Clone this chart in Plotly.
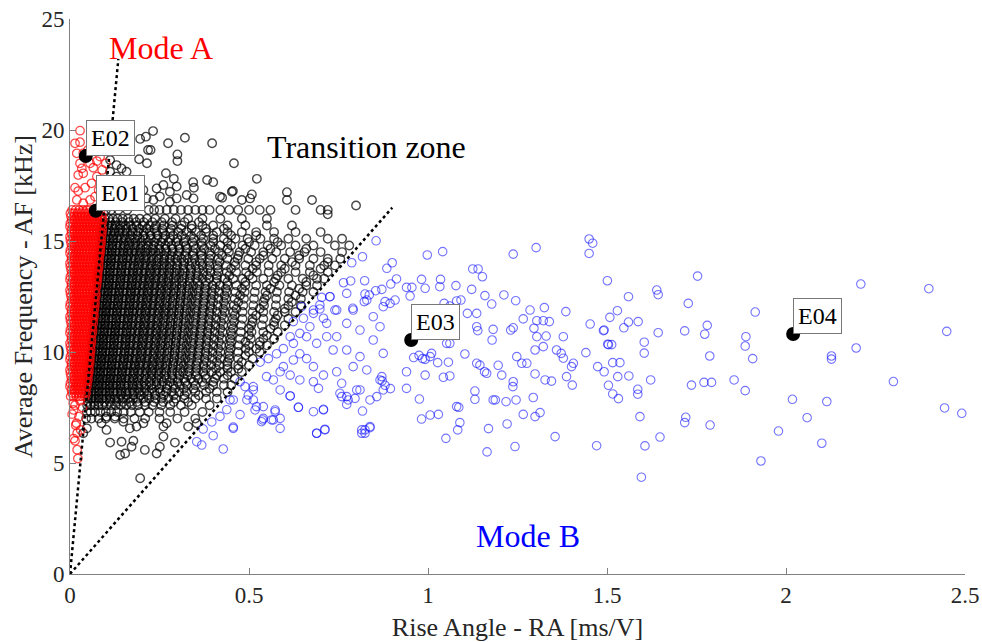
import plotly.graph_objects as go

# ---------------- DATA ----------------
# Transition zone (black): rows of events that share roughly the same AF level
black_row_af = [7.0, 7.3, 7.6, 7.9, 8.2, 8.5, 8.8, 9.1, 9.4, 9.7, 10.0, 10.3, 10.6, 10.9,
                11.2, 11.5, 11.8, 12.1, 12.4, 12.7, 13.0, 13.3, 13.6, 13.9, 14.2, 14.5,
                14.8, 15.1, 15.4, 15.7, 16.0, 16.4]
black_row_ra = [
    [0.045,0.06,0.08,0.1,0.125,0.15,0.18,0.21,0.25,0.3,0.35],
    [0.047,0.058,0.07,0.085,0.1,0.115,0.132,0.15,0.17,0.195,0.22,0.25,0.28,0.32,0.37],
    [0.048,0.058,0.068,0.079,0.09,0.102,0.115,0.128,0.142,0.157,0.173,0.19,0.21,0.23,0.255,0.28,0.31,0.34,0.39],
    [0.05,0.06,0.07,0.08,0.09,0.101,0.112,0.124,0.136,0.149,0.162,0.176,0.19,0.205,0.221,0.238,0.256,0.275,0.295,0.32,0.35,0.38,0.41],
    [0.052,0.061,0.07,0.08,0.09,0.1,0.11,0.121,0.132,0.143,0.155,0.167,0.18,0.193,0.207,0.221,0.236,0.252,0.268,0.285,0.305,0.325,0.35,0.38,0.41,0.44],
    [0.053,0.062,0.071,0.08,0.09,0.1,0.11,0.12,0.13,0.141,0.152,0.163,0.175,0.187,0.2,0.213,0.227,0.241,0.256,0.272,0.289,0.307,0.327,0.35,0.375,0.4,0.43,0.45],
    [0.055,0.064,0.073,0.082,0.092,0.102,0.112,0.122,0.132,0.143,0.154,0.165,0.177,0.189,0.201,0.214,0.227,0.241,0.255,0.27,0.286,0.302,0.319,0.338,0.358,0.38,0.405,0.43,0.46],
    [0.057,0.066,0.075,0.084,0.094,0.104,0.114,0.124,0.134,0.145,0.156,0.167,0.178,0.19,0.202,0.215,0.228,0.241,0.255,0.269,0.284,0.3,0.316,0.333,0.352,0.372,0.395,0.42,0.45,0.48],
    [0.058,0.067,0.076,0.086,0.096,0.106,0.116,0.126,0.137,0.148,0.159,0.17,0.181,0.193,0.205,0.218,0.231,0.244,0.258,0.272,0.287,0.302,0.318,0.335,0.353,0.373,0.394,0.417,0.44,0.47,0.5],
    [0.06,0.069,0.078,0.088,0.098,0.108,0.118,0.129,0.14,0.151,0.162,0.173,0.185,0.197,0.209,0.222,0.235,0.248,0.262,0.276,0.291,0.306,0.322,0.339,0.357,0.376,0.397,0.42,0.445,0.47,0.51],
    [0.062,0.071,0.08,0.09,0.1,0.11,0.12,0.131,0.142,0.153,0.164,0.175,0.187,0.199,0.211,0.224,0.237,0.25,0.264,0.278,0.293,0.308,0.324,0.341,0.359,0.378,0.398,0.42,0.444,0.47,0.5,0.53],
    [0.064,0.073,0.082,0.092,0.102,0.112,0.122,0.133,0.144,0.155,0.166,0.177,0.189,0.201,0.213,0.226,0.239,0.252,0.266,0.28,0.295,0.31,0.326,0.343,0.361,0.38,0.4,0.422,0.446,0.472,0.5,0.53,0.55],
    [0.065,0.074,0.083,0.093,0.103,0.113,0.123,0.134,0.145,0.156,0.167,0.179,0.191,0.203,0.215,0.228,0.241,0.254,0.268,0.282,0.297,0.312,0.328,0.345,0.363,0.382,0.402,0.424,0.448,0.475,0.505,0.54,0.57],
    [0.067,0.076,0.085,0.095,0.105,0.115,0.125,0.136,0.147,0.158,0.169,0.181,0.193,0.205,0.217,0.23,0.243,0.256,0.27,0.284,0.299,0.314,0.33,0.347,0.365,0.384,0.404,0.426,0.45,0.477,0.507,0.54,0.58],
    [0.069,0.078,0.087,0.097,0.107,0.117,0.127,0.138,0.149,0.16,0.171,0.183,0.195,0.207,0.219,0.232,0.245,0.258,0.272,0.286,0.301,0.316,0.332,0.349,0.367,0.386,0.406,0.428,0.452,0.478,0.506,0.536,0.57,0.6],
    [0.07,0.079,0.088,0.098,0.108,0.118,0.129,0.14,0.151,0.162,0.173,0.185,0.197,0.209,0.221,0.234,0.247,0.26,0.274,0.288,0.303,0.318,0.334,0.351,0.369,0.388,0.408,0.43,0.455,0.482,0.51,0.54,0.575,0.61],
    [0.072,0.081,0.09,0.1,0.11,0.12,0.131,0.142,0.153,0.164,0.175,0.187,0.199,0.211,0.223,0.236,0.249,0.262,0.276,0.29,0.305,0.32,0.336,0.353,0.371,0.39,0.41,0.432,0.456,0.482,0.51,0.54,0.57,0.6,0.63],
    [0.074,0.083,0.092,0.102,0.112,0.122,0.133,0.144,0.155,0.166,0.177,0.189,0.201,0.213,0.225,0.238,0.251,0.264,0.278,0.292,0.307,0.322,0.338,0.355,0.373,0.392,0.412,0.434,0.458,0.484,0.512,0.542,0.575,0.61,0.645],
    [0.075,0.084,0.094,0.104,0.114,0.124,0.135,0.146,0.157,0.168,0.179,0.191,0.203,0.215,0.227,0.24,0.253,0.266,0.28,0.294,0.309,0.324,0.34,0.357,0.375,0.394,0.414,0.436,0.46,0.486,0.514,0.544,0.576,0.61,0.645],
    [0.077,0.086,0.096,0.106,0.116,0.126,0.137,0.148,0.159,0.17,0.181,0.193,0.205,0.217,0.229,0.242,0.255,0.268,0.282,0.296,0.311,0.326,0.342,0.359,0.377,0.396,0.416,0.438,0.462,0.488,0.516,0.546,0.578,0.612,0.65,0.68],
    [0.079,0.088,0.098,0.108,0.118,0.128,0.139,0.15,0.161,0.172,0.183,0.195,0.207,0.219,0.231,0.244,0.257,0.27,0.284,0.298,0.313,0.328,0.344,0.361,0.379,0.398,0.418,0.44,0.465,0.49,0.52,0.55,0.585,0.62,0.66,0.69],
    [0.081,0.09,0.1,0.11,0.12,0.13,0.141,0.152,0.163,0.174,0.186,0.198,0.21,0.222,0.235,0.248,0.261,0.275,0.289,0.304,0.319,0.335,0.352,0.37,0.389,0.41,0.432,0.456,0.482,0.51,0.54,0.575,0.61,0.65,0.69,0.71],
    [0.082,0.091,0.101,0.111,0.121,0.132,0.143,0.154,0.165,0.176,0.188,0.2,0.212,0.224,0.237,0.25,0.263,0.277,0.291,0.306,0.321,0.337,0.354,0.372,0.392,0.414,0.438,0.464,0.492,0.522,0.555,0.59,0.63,0.67,0.72],
    [0.084,0.093,0.103,0.113,0.123,0.134,0.145,0.156,0.167,0.179,0.191,0.203,0.216,0.229,0.242,0.256,0.27,0.285,0.3,0.316,0.333,0.351,0.37,0.39,0.412,0.436,0.462,0.49,0.52,0.555,0.59,0.63,0.67,0.71,0.74],
    [0.086,0.095,0.105,0.115,0.125,0.136,0.147,0.158,0.17,0.182,0.194,0.207,0.22,0.234,0.248,0.263,0.278,0.294,0.311,0.329,0.348,0.368,0.39,0.414,0.44,0.468,0.498,0.53,0.565,0.6,0.64,0.68,0.72,0.755],
    [0.087,0.096,0.106,0.116,0.127,0.138,0.149,0.161,0.173,0.185,0.198,0.211,0.225,0.239,0.254,0.27,0.287,0.305,0.324,0.344,0.366,0.39,0.416,0.444,0.474,0.506,0.54,0.576,0.615,0.655,0.7,0.76],
    [0.089,0.098,0.108,0.118,0.129,0.14,0.152,0.164,0.177,0.19,0.204,0.218,0.233,0.249,0.266,0.284,0.303,0.323,0.345,0.368,0.393,0.42,0.45,0.482,0.516,0.552,0.59,0.63,0.68,0.74,0.78],
    [0.091,0.1,0.11,0.12,0.131,0.143,0.155,0.168,0.181,0.195,0.21,0.226,0.243,0.261,0.28,0.3,0.322,0.346,0.372,0.4,0.43,0.462,0.496,0.532,0.57,0.61,0.66,0.72,0.76],
    [0.093,0.103,0.113,0.124,0.136,0.148,0.161,0.175,0.19,0.206,0.223,0.241,0.26,0.28,0.302,0.326,0.352,0.38,0.41,0.44,0.48,0.52,0.57,0.63,0.7],
    [0.095,0.105,0.116,0.128,0.141,0.155,0.17,0.186,0.203,0.221,0.24,0.262,0.286,0.312,0.34,0.37,0.4,0.44,0.49,0.55,0.62],
    [0.097,0.108,0.12,0.133,0.147,0.162,0.178,0.195,0.215,0.238,0.265,0.295,0.33,0.37,0.42,0.48,0.55],
    [0.1,0.115,0.135,0.16,0.22,0.235,0.25,0.27,0.29,0.31,0.33,0.35,0.37,0.39,0.42,0.445,0.47,0.5,0.53,0.56,0.63,0.72],
]
# Transition zone (black): in-between rows of the dense core
black_row2_af = [7.75, 8.05, 8.35, 8.65, 8.95, 9.25, 9.55, 9.85, 10.15, 10.45, 10.75, 11.05, 11.35,
                 11.65, 11.95, 12.25, 12.55, 12.85, 13.15, 13.45, 13.75, 14.05, 14.35, 14.65,
                 14.95, 15.25, 15.55, 15.85]
black_row2_ra = [
    [0.05,0.065,0.08,0.096,0.112,0.13,0.148,0.167,0.187,0.21,0.235,0.26,0.29,0.33],
    [0.051,0.065,0.08,0.095,0.11,0.126,0.142,0.159,0.177,0.196,0.216,0.238,0.262,0.29,0.32,0.36],
    [0.053,0.067,0.081,0.096,0.111,0.126,0.142,0.158,0.175,0.192,0.21,0.229,0.249,0.27,0.293,0.318,0.345,0.39],
    [0.054,0.068,0.083,0.097,0.112,0.127,0.142,0.158,0.174,0.19,0.207,0.224,0.242,0.26,0.28,0.3,0.322,0.345,0.37,0.4],
    [0.056,0.07,0.085,0.099,0.114,0.129,0.144,0.16,0.176,0.193,0.21,0.228,0.246,0.265,0.285,0.306,0.328,0.352,0.378,0.41,0.44],
    [0.058,0.072,0.086,0.1,0.115,0.13,0.146,0.162,0.178,0.195,0.212,0.23,0.248,0.267,0.287,0.308,0.33,0.354,0.38,0.408,0.44,0.47],
    [0.059,0.073,0.088,0.102,0.117,0.132,0.148,0.164,0.18,0.197,0.214,0.232,0.25,0.269,0.289,0.31,0.332,0.356,0.382,0.41,0.44,0.48],
    [0.061,0.075,0.09,0.104,0.119,0.134,0.15,0.166,0.182,0.199,0.216,0.234,0.252,0.271,0.291,0.312,0.334,0.358,0.384,0.412,0.445,0.49],
    [0.063,0.077,0.092,0.106,0.121,0.136,0.152,0.168,0.184,0.201,0.218,0.236,0.254,0.273,0.293,0.314,0.336,0.36,0.386,0.414,0.448,0.49,0.52],
    [0.064,0.078,0.093,0.108,0.123,0.138,0.154,0.17,0.186,0.203,0.22,0.238,0.256,0.275,0.295,0.316,0.338,0.362,0.388,0.416,0.45,0.49,0.53],
    [0.066,0.08,0.095,0.11,0.125,0.14,0.156,0.172,0.188,0.205,0.222,0.24,0.258,0.277,0.297,0.318,0.34,0.364,0.39,0.418,0.452,0.5,0.55],
    [0.068,0.082,0.097,0.112,0.127,0.142,0.158,0.174,0.19,0.207,0.224,0.242,0.26,0.279,0.299,0.32,0.342,0.366,0.392,0.42,0.455,0.5,0.56],
    [0.07,0.084,0.099,0.114,0.129,0.144,0.16,0.176,0.192,0.209,0.226,0.244,0.262,0.281,0.301,0.322,0.344,0.368,0.394,0.422,0.458,0.51,0.57],
    [0.071,0.085,0.1,0.115,0.13,0.146,0.162,0.178,0.194,0.211,0.228,0.246,0.264,0.283,0.303,0.324,0.346,0.37,0.396,0.425,0.46,0.52,0.58],
    [0.073,0.087,0.102,0.117,0.132,0.148,0.164,0.18,0.196,0.213,0.23,0.248,0.266,0.285,0.305,0.326,0.348,0.372,0.398,0.428,0.465,0.53,0.6],
    [0.075,0.089,0.104,0.119,0.134,0.15,0.166,0.182,0.198,0.215,0.232,0.25,0.268,0.287,0.307,0.328,0.35,0.374,0.4,0.43,0.47,0.54,0.62],
    [0.076,0.09,0.105,0.12,0.136,0.152,0.168,0.184,0.2,0.217,0.234,0.252,0.27,0.289,0.309,0.33,0.352,0.376,0.402,0.432,0.475,0.55,0.63],
    [0.078,0.092,0.107,0.122,0.138,0.154,0.17,0.186,0.202,0.219,0.236,0.254,0.272,0.291,0.311,0.332,0.354,0.378,0.405,0.435,0.48,0.56,0.64],
    [0.08,0.094,0.109,0.124,0.14,0.156,0.172,0.188,0.204,0.221,0.238,0.256,0.274,0.293,0.313,0.334,0.356,0.38,0.408,0.44,0.49,0.57,0.66],
    [0.082,0.096,0.111,0.126,0.142,0.158,0.174,0.19,0.206,0.223,0.24,0.258,0.276,0.295,0.315,0.336,0.358,0.383,0.41,0.445,0.5,0.58,0.68],
    [0.083,0.097,0.112,0.127,0.143,0.159,0.175,0.191,0.208,0.225,0.242,0.26,0.278,0.297,0.317,0.338,0.36,0.385,0.413,0.45,0.51,0.6,0.7],
    [0.085,0.099,0.114,0.129,0.145,0.161,0.177,0.193,0.21,0.227,0.244,0.262,0.28,0.299,0.319,0.34,0.363,0.388,0.418,0.46,0.52,0.62,0.72],
    [0.087,0.101,0.116,0.131,0.147,0.163,0.179,0.195,0.212,0.229,0.246,0.264,0.282,0.301,0.321,0.343,0.367,0.393,0.425,0.47,0.54,0.64],
    [0.088,0.102,0.117,0.132,0.148,0.164,0.18,0.197,0.214,0.231,0.249,0.267,0.286,0.306,0.327,0.35,0.375,0.405,0.44,0.49,0.56,0.66],
    [0.09,0.104,0.119,0.134,0.15,0.166,0.183,0.2,0.218,0.236,0.255,0.275,0.296,0.318,0.342,0.368,0.4,0.44,0.5,0.58],
    [0.092,0.106,0.121,0.137,0.153,0.17,0.188,0.206,0.225,0.245,0.266,0.288,0.312,0.338,0.366,0.4,0.45,0.52],
    [0.094,0.108,0.124,0.14,0.157,0.175,0.194,0.214,0.235,0.258,0.282,0.31,0.34,0.38,0.43],
    [0.096,0.112,0.128,0.146,0.165,0.185,0.206,0.23,0.256,0.285,0.32,0.36],
]
# Transition zone (black): scattered events outside the rows
black_extra_ra = [0.196,0.212,0.232,0.274,0.321,0.397,0.218,0.225,0.30,0.30,0.215,0.458,0.522,0.383,0.40,
                  0.268,0.29,0.344,0.346,0.606,0.676,0.799,0.606,0.508,0.455,0.425,0.112,0.130,0.144,
                  0.158,0.112,0.130,0.110,0.193,0.205,0.242,0.261,0.279,0.298,0.214,0.233,0.251,0.279,
                  0.298,0.326,0.345,0.419,0.452,0.480,0.503,0.112,0.144,0.140,0.154,0.172,0.177,0.209,
                  0.242,0.251,0.293,0.261,0.205,0.186,0.167,0.102,0.088,0.102,0.126,0.149,0.047,0.037,
                  0.196,0.261,0.270,0.330,0.354,0.72,0.70]
black_extra_af = [19.6,19.7,19.95,19.4,19.65,19.4,19.1,19.1,18.9,18.6,18.5,18.5,17.8,17.75,17.65,
                  18.05,17.8,17.65,17.4,17.2,16.85,16.6,16.85,17.1,17.25,16.95,18.65,18.42,18.27,
                  18.12,18.12,17.9,17.75,18.68,17.30,17.37,17.52,17.22,17.45,16.92,16.85,17.0,16.77,
                  16.92,17.07,16.92,17.0,17.22,16.85,16.92,5.92,5.96,5.36,5.43,5.73,6.0,5.59,
                  5.43,5.73,5.92,6.19,6.79,6.64,6.56,6.49,6.79,7.09,7.09,6.86,6.56,6.34,
                  4.31,6.64,6.79,6.64,6.79,16.2,16.4]

# Mode A (red)
red_row_af = [8.0, 8.3, 8.6, 8.9, 9.2, 9.5, 9.8, 10.1, 10.4, 10.7, 11.0, 11.3, 11.6, 11.9, 12.2,
              12.5, 12.8, 13.1, 13.4, 13.7, 14.0, 14.3, 14.6, 14.9, 15.2, 15.5, 15.8, 16.1, 16.4]
red_row_ra = [
    [0.002,0.01,0.018,0.026,0.034,0.042],
    [0.004,0.012,0.02,0.028,0.036,0.044],
    [0.001,0.009,0.017,0.025,0.033,0.041,0.048],
    [0.003,0.011,0.019,0.027,0.035,0.043,0.05],
    [0.0,0.008,0.016,0.024,0.032,0.04,0.047,0.053],
    [0.004,0.012,0.02,0.028,0.036,0.044,0.051,0.055],
    [0.001,0.009,0.017,0.025,0.033,0.041,0.049,0.056],
    [0.003,0.011,0.019,0.027,0.035,0.043,0.051,0.058],
    [0.0,0.008,0.016,0.024,0.032,0.04,0.048,0.055,0.06],
    [0.004,0.012,0.02,0.028,0.036,0.044,0.052,0.059],
    [0.001,0.009,0.017,0.025,0.033,0.041,0.049,0.057,0.063],
    [0.003,0.011,0.019,0.027,0.035,0.043,0.051,0.059,0.065],
    [0.0,0.008,0.016,0.024,0.032,0.04,0.048,0.056,0.063,0.067],
    [0.004,0.012,0.02,0.028,0.036,0.044,0.052,0.06,0.068],
    [0.001,0.009,0.017,0.025,0.033,0.041,0.049,0.057,0.065,0.07],
    [0.003,0.011,0.019,0.027,0.035,0.043,0.051,0.059,0.067,0.072],
    [0.0,0.008,0.016,0.024,0.032,0.04,0.048,0.056,0.064,0.071],
    [0.004,0.012,0.02,0.028,0.036,0.044,0.052,0.06,0.068,0.075],
    [0.001,0.009,0.017,0.025,0.033,0.041,0.049,0.057,0.065,0.073,0.077],
    [0.003,0.011,0.019,0.027,0.035,0.043,0.051,0.059,0.067,0.075,0.079],
    [0.0,0.008,0.016,0.024,0.032,0.04,0.048,0.056,0.064,0.072,0.08],
    [0.004,0.012,0.02,0.028,0.036,0.044,0.052,0.06,0.068,0.076,0.082],
    [0.001,0.009,0.017,0.025,0.033,0.041,0.049,0.057,0.065,0.073,0.081,0.085],
    [0.003,0.011,0.019,0.027,0.035,0.043,0.051,0.059,0.067,0.075,0.083,0.087],
    [0.0,0.008,0.016,0.024,0.032,0.04,0.048,0.056,0.064,0.072,0.08,0.088],
    [0.004,0.012,0.02,0.028,0.036,0.044,0.052,0.06,0.068,0.076,0.084,0.09],
    [0.001,0.009,0.017,0.025,0.033,0.041,0.049,0.057,0.065,0.073,0.081,0.089],
    [0.003,0.011,0.019,0.027,0.035,0.043,0.051,0.059,0.067,0.075,0.083,0.09],
    [0.006,0.016,0.026,0.036,0.046,0.056,0.066,0.076,0.086],
]
red_row2_af = [8.15, 8.45, 8.75, 9.05, 9.35, 9.65, 9.95, 10.25, 10.55, 10.85, 11.15, 11.45, 11.75,
               12.05, 12.35, 12.65, 12.95, 13.25, 13.55, 13.85, 14.15, 14.45, 14.75, 15.05, 15.35,
               15.65, 15.95, 16.25]
red_row2_ra = [
    [0.006,0.014,0.022,0.03,0.038,0.045],
    [0.0,0.008,0.016,0.024,0.032,0.04,0.047],
    [0.005,0.013,0.021,0.029,0.037,0.045,0.05],
    [0.001,0.009,0.017,0.025,0.033,0.041,0.049,0.052],
    [0.004,0.012,0.02,0.028,0.036,0.044,0.052],
    [0.0,0.008,0.016,0.024,0.032,0.04,0.048,0.055],
    [0.005,0.013,0.021,0.029,0.037,0.045,0.053,0.057],
    [0.001,0.009,0.017,0.025,0.033,0.041,0.049,0.057],
    [0.004,0.012,0.02,0.028,0.036,0.044,0.052,0.06],
    [0.0,0.008,0.016,0.024,0.032,0.04,0.048,0.056,0.062],
    [0.005,0.013,0.021,0.029,0.037,0.045,0.053,0.061],
    [0.001,0.009,0.017,0.025,0.033,0.041,0.049,0.057,0.064],
    [0.004,0.012,0.02,0.028,0.036,0.044,0.052,0.06,0.066],
    [0.0,0.008,0.016,0.024,0.032,0.04,0.048,0.056,0.064,0.069],
    [0.005,0.013,0.021,0.029,0.037,0.045,0.053,0.061,0.069],
    [0.001,0.009,0.017,0.025,0.033,0.041,0.049,0.057,0.065,0.072],
    [0.004,0.012,0.02,0.028,0.036,0.044,0.052,0.06,0.068,0.074],
    [0.0,0.008,0.016,0.024,0.032,0.04,0.048,0.056,0.064,0.072,0.076],
    [0.005,0.013,0.021,0.029,0.037,0.045,0.053,0.061,0.069,0.077],
    [0.001,0.009,0.017,0.025,0.033,0.041,0.049,0.057,0.065,0.073,0.08],
    [0.004,0.012,0.02,0.028,0.036,0.044,0.052,0.06,0.068,0.076,0.081],
    [0.0,0.008,0.016,0.024,0.032,0.04,0.048,0.056,0.064,0.072,0.08,0.084],
    [0.005,0.013,0.021,0.029,0.037,0.045,0.053,0.061,0.069,0.077,0.085],
    [0.001,0.009,0.017,0.025,0.033,0.041,0.049,0.057,0.065,0.073,0.081,0.087],
    [0.004,0.012,0.02,0.028,0.036,0.044,0.052,0.06,0.068,0.076,0.084,0.089],
    [0.0,0.008,0.016,0.024,0.032,0.04,0.048,0.056,0.064,0.072,0.08,0.088],
    [0.005,0.013,0.021,0.029,0.037,0.045,0.053,0.061,0.069,0.077,0.085,0.091],
    [0.001,0.011,0.021,0.031,0.041,0.051,0.061,0.071,0.081],
]
red_extra_ra = [0.028,0.014,0.028,0.019,0.037,0.028,0.056,0.075,0.065,0.033,0.023,0.037,0.014,0.023,
                0.042,0.06,0.075,0.08,0.019,0.037,0.056,0.07,0.09,0.05,0.084,0.10,0.09,0.07,
                0.014,0.028,0.01,0.025,0.018,0.03,0.016,0.02,0.014,0.02,0.022,0.006,0.035,0.01,0.009]
red_extra_af = [19.97,19.4,19.45,18.95,18.95,18.5,18.5,18.6,18.3,18.27,17.97,18.05,17.4,17.25,
                17.4,17.6,17.9,17.3,16.85,16.7,16.85,17.0,16.8,19.1,18.8,18.5,18.2,19.2,
                7.6,7.8,7.39,7.09,6.79,6.49,6.7,6.35,6.0,5.6,5.2,7.2,7.5,6.1,7.69]

# Mode B (blue)
blue_ra = [1.501,1.753,2.209,2.399,1.560,1.639,1.643,1.727,1.914,1.529,1.508,1.492,1.547,1.560,1.587,
           1.643,1.717,1.780,1.773,1.888,1.886,1.907,2.449,2.196,2.127,2.127,1.504,1.513,1.604,1.604,
           1.787,1.516,1.536,1.492,1.530,1.561,1.622,1.504,1.516,1.532,1.586,1.586,1.736,1.771,1.792,
           1.855,1.886,2.018,2.114,2.300,2.443,2.491,1.592,1.720,1.717,1.788,2.059,1.979,2.100,1.648,
           1.606,1.930,1.596,1.165,
           0.855,0.817,0.998,1.041,1.238,1.302,1.450,1.460,1.450,0.900,0.885,0.787,0.912,0.982,1.035,
           1.125,1.140,1.152,0.764,0.784,0.823,0.896,0.940,0.955,0.992,1.033,1.078,1.122,1.212,1.245,
           1.159,1.178,0.703,0.726,0.824,0.836,0.854,0.871,0.950,0.822,0.880,0.894,0.908,0.790,0.740,
           0.647,0.680,0.698,1.045,1.061,1.080,1.092,1.110,1.136,1.285,1.325,1.385,1.266,1.304,1.322,
           1.339,1.453,1.136,1.139,1.182,1.179,1.238,1.231,1.296,1.304,1.330,1.378,1.490,1.502,1.322,
           1.299,1.248,1.262,1.276,1.359,1.372,1.378,1.406,1.401,1.441,1.474,1.103,1.136,1.145,1.196,
           1.158,1.164,1.206,1.238,1.237,1.246,1.299,1.327,1.345,1.387,1.403,1.471,1.057,0.992,1.043,
           1.061,1.131,1.131,1.182,1.188,1.218,1.294,1.080,1.086,1.313,1.299,1.266,1.221,1.169,1.089,
           1.083,1.006,1.029,0.982,1.050,1.243,1.355,0.976,0.940,0.940,0.960,0.975,0.985,1.010,1.006,
           0.992,1.027,1.024,1.013,1.006,1.052,1.061,1.057,1.069,
           0.447,0.456,0.475,0.489,0.498,0.512,0.521,0.517,0.540,0.535,0.568,0.587,0.573,0.615,0.638,
           0.680,0.708,0.689,0.712,0.694,0.754,0.759,0.777,0.796,0.801,0.817,0.773,0.815,0.824,0.838,
           0.880,0.895,0.872,0.857,0.871,
           0.354,0.368,0.428,0.400,0.372,0.456,0.419,0.396,0.475,0.438,0.456,0.494,0.512,0.512,0.540,
           0.573,0.587,0.563,0.538,0.615,0.638,0.708,0.689,0.712,0.587,0.568,0.549,0.587,0.615,0.642,
           0.680,0.531,0.554,0.577,0.596,0.624,0.642,0.661,0.680,0.708,0.745,0.759,0.624,0.652,0.680,
           0.708,0.717,0.670,0.642,0.615,0.698,0.726,0.773,0.745,0.791,0.773,0.810,0.847,0.875,0.829,
           0.866,0.847,0.875,0.810,0.773,0.791,0.829,0.866,0.810,0.773,0.838,0.875,0.815,0.824,0.838,
           0.735,0.689,0.661,0.717,0.745,0.624,0.596]
blue_af = [13.21,13.42,13.06,12.85,12.49,12.79,12.58,12.19,11.80,11.86,11.56,10.99,11.09,11.35,11.37,
           10.87,10.95,11.20,10.80,10.69,10.27,9.70,10.93,10.18,9.82,9.68,10.33,10.33,10.44,9.95,
           9.82,9.52,9.52,9.11,8.89,8.92,8.74,8.50,8.11,7.90,8.32,8.10,8.51,8.63,8.63,
           8.74,8.26,7.87,7.77,8.67,7.48,7.24,7.09,7.06,6.82,6.71,7.04,6.44,5.89,6.17,
           5.77,5.09,4.36,5.50,
           15.01,14.29,14.37,14.52,14.41,14.70,15.09,14.90,14.44,14.02,13.77,14.02,13.29,13.27,13.27,
           13.74,13.74,13.39,13.12,13.20,13.21,13.06,12.91,12.91,12.87,12.94,12.99,12.82,12.57,12.31,
           12.54,12.16,12.46,12.49,12.61,12.57,12.76,12.82,12.52,12.27,12.27,12.19,12.34,11.97,11.89,
           12.04,11.89,11.94,12.19,12.07,12.30,12.34,11.74,11.74,11.89,12.00,11.82,11.49,11.41,11.41,
           11.37,11.26,11.14,10.96,11.02,10.54,11.09,10.99,11.07,10.69,10.72,10.69,10.96,10.35,10.24,
           10.09,9.79,9.49,9.49,10.09,9.94,9.72,9.49,9.34,9.97,9.34,9.91,9.49,9.41,9.40,
           9.11,9.04,8.96,8.66,8.44,7.84,9.01,8.74,8.69,8.89,8.51,5.78,9.54,8.96,8.86,
           8.92,8.24,7.87,7.84,7.84,7.76,7.95,7.54,7.51,7.27,7.09,7.19,6.76,6.55,6.82,
           6.49,7.16,7.19,6.98,6.11,5.74,6.19,7.88,8.36,9.11,9.75,9.85,9.70,9.94,9.79,
           9.67,9.52,10.77,10.99,11.14,10.39,10.39,11.59,11.67,
           7.84,6.56,8.66,8.44,8.06,7.84,7.54,7.39,7.01,6.86,6.94,6.56,7.31,8.02,7.51,
           7.31,7.42,6.34,6.52,8.36,8.14,7.99,7.84,7.91,8.29,7.34,7.64,6.34,6.49,6.59,
           8.50,8.35,8.70,7.99,8.89,
           5.96,5.81,5.63,6.23,6.53,6.62,7.10,6.85,7.18,7.40,7.84,7.84,8.29,8.44,7.54,
           7.39,7.01,6.94,6.94,8.02,7.51,7.39,6.34,6.49,8.29,8.74,8.89,9.11,8.96,8.74,
           8.66,9.54,9.70,9.92,10.15,10.39,9.92,9.70,9.34,8.96,9.11,8.59,11.37,11.52,11.74,
           11.52,11.29,11.14,10.84,10.69,12.12,12.49,12.64,11.89,11.89,11.29,10.99,11.59,12.04,12.34,
           11.14,10.54,9.94,9.79,10.09,9.34,9.19,8.74,8.29,7.99,7.84,8.29,6.49,6.34,6.64,
           10.09,10.39,10.69,10.69,10.69,9.64,9.34]

# Highlighted events
event_names = ["E01", "E02", "E03", "E04"]
event_ra = [0.072, 0.044, 0.953, 2.020]
event_af = [16.36, 18.83, 10.54, 10.81]

# Boundary lines (dotted)
bound_a_ra = [0.0, 0.135]
bound_a_af = [0.0, 23.2]
bound_b_ra = [0.0, 0.900]
bound_b_af = [0.0, 16.5]

x_ticks = [0, 0.5, 1, 1.5, 2, 2.5]
x_tick_text = ["0", "0.5", "1", "1.5", "2", "2.5"]
y_ticks = [0, 5, 10, 15, 20, 25]

# ---------------- FIGURE ----------------
def expand(levels, rows):
    xs, ys = [], []
    for lv, row in zip(levels, rows):
        for v in row:
            xs.append(v)
            ys.append(lv)
    return xs, ys

bx1, by1 = expand(black_row_af, black_row_ra)
bx2, by2 = expand(black_row2_af, black_row2_ra)
bx = bx1 + bx2 + black_extra_ra
by = by1 + by2 + black_extra_af
rx1, ry1 = expand(red_row_af, red_row_ra)
rx2, ry2 = expand(red_row2_af, red_row2_ra)
rx = rx1 + rx2 + red_extra_ra
ry = ry1 + ry2 + red_extra_af

FONT = "Liberation Serif"
msize = 8.5

def ring(color, w=1.1):
    return dict(symbol="circle-open", size=msize, color=color, line=dict(width=w, color=color))

fig = go.Figure()
fig.add_trace(go.Scatter(x=bx, y=by, mode="markers", marker=ring("rgba(0,0,0,0.72)", 1.4),
                         cliponaxis=False, showlegend=False, hoverinfo="skip"))
fig.add_trace(go.Scatter(x=blue_ra, y=blue_af, mode="markers", marker=ring("rgba(0,0,255,0.55)", 1.1),
                         cliponaxis=False, showlegend=False))
fig.add_trace(go.Scatter(x=rx, y=ry, mode="markers", marker=ring("rgba(255,0,0,0.7)", 1.3),
                         cliponaxis=False, showlegend=False, hoverinfo="skip"))
fig.add_trace(go.Scatter(x=bound_a_ra, y=bound_a_af, mode="lines",
                         line=dict(color="black", width=2.5, dash="dot"), showlegend=False))
fig.add_trace(go.Scatter(x=bound_b_ra, y=bound_b_af, mode="lines",
                         line=dict(color="black", width=2.5, dash="dot"), showlegend=False))
fig.add_trace(go.Scatter(x=event_ra, y=event_af, mode="markers",
                         marker=dict(symbol="circle", size=14, color="black"),
                         cliponaxis=False, showlegend=False, text=event_names))

for name, ex, ey in zip(event_names, event_ra, event_af):
    fig.add_annotation(x=ex, y=ey, text=name, showarrow=False, xanchor="left", yanchor="bottom",
                       font=dict(family=FONT, size=24, color="black"),
                       bgcolor="white", bordercolor="rgb(120,120,120)", borderwidth=1, borderpad=4)

fig.add_annotation(x=0.254, y=23.7, text="Mode A", showarrow=False,
                   font=dict(family=FONT, size=32, color="red"))
fig.add_annotation(x=0.827, y=19.23, text="Transition zone", showarrow=False,
                   font=dict(family=FONT, size=32, color="black"))
fig.add_annotation(x=1.279, y=1.71, text="Mode B", showarrow=False,
                   font=dict(family=FONT, size=32, color="blue"))

axis_common = dict(showgrid=False, zeroline=False, showline=True, linecolor="rgb(128,128,128)",
                   linewidth=1, ticks="inside", ticklen=6, tickcolor="rgb(128,128,128)",
                   tickfont=dict(family=FONT, size=23, color="rgb(38,38,38)"), automargin=False)

fig.update_layout(
    width=982, height=642,
    margin=dict(l=70, r=17, t=19, b=68),
    paper_bgcolor="white", plot_bgcolor="white",
    xaxis=dict(range=[0, 2.5], tickvals=x_ticks, ticktext=x_tick_text,
               title=dict(text="Rise Angle - RA [ms/V]", standoff=12,
                          font=dict(family=FONT, size=26, color="rgb(38,38,38)")),
               **axis_common),
    yaxis=dict(range=[0, 25], tickvals=y_ticks,
               title=dict(text="Average Frequency - AF [kHz]", standoff=1,
                          font=dict(family=FONT, size=26, color="rgb(38,38,38)")),
               **axis_common),
)

fig.write_html("out.html")
